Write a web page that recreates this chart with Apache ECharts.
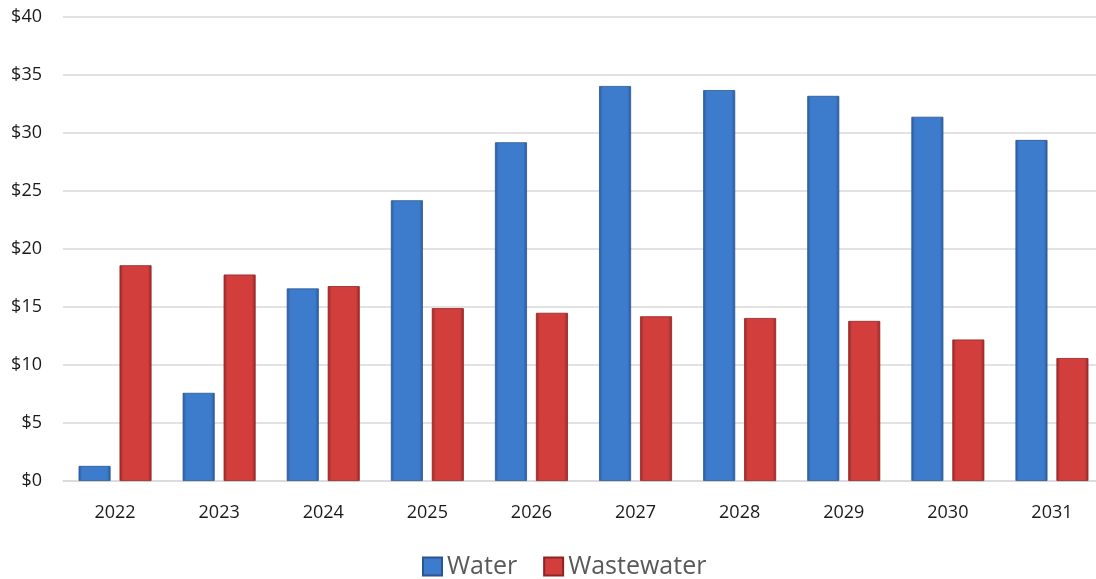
<!DOCTYPE html>
<html>
<head>
<meta charset="utf-8">
<script src="https://cdn.jsdelivr.net/npm/echarts@6/dist/echarts.min.js"></script>
<style>
  html, body { margin: 0; padding: 0; background: #fff; overflow: hidden; }
  /* plot runs slightly past the right edge in the original, so the canvas is a bit wider than the window */
  #chart { width: 1104px; height: 579px; }
</style>
</head>
<body>
<div id="chart"></div>
<script>
const years = ['2022', '2023', '2024', '2025', '2026', '2027', '2028', '2029', '2030', '2031'];
const water = [1.3, 7.6, 16.6, 24.2, 29.2, 34.05, 33.7, 33.2, 31.4, 29.4];
const wastewater = [18.6, 17.8, 16.8, 14.9, 14.5, 14.2, 14.05, 13.8, 12.2, 10.6];

const font = '"Open Sans", "Noto Sans", sans-serif';

// horizontal gradient to fake the bevelled bars
const bevel = (edge, mid) => new echarts.graphic.LinearGradient(0, 0, 1, 0, [
  { offset: 0, color: edge },
  { offset: 0.12, color: mid },
  { offset: 0.88, color: mid },
  { offset: 1, color: edge }
]);

const chart = echarts.init(document.getElementById('chart'));

chart.setOption({
  animation: false,
  grid: { left: 63, top: 17, right: 0, bottom: 98 },
  legend: {
    bottom: 0,
    left: 422,
    padding: 0,
    itemWidth: 19,
    itemHeight: 18,
    itemGap: 26,
    icon: 'rect',
    textStyle: { fontFamily: font, fontSize: 25, color: '#595959' },
    data: ['Water', 'Wastewater']
  },
  xAxis: {
    type: 'category',
    data: years,
    axisTick: { show: false },
    axisLine: { lineStyle: { color: '#d9d9d9', width: 1.5 } },
    axisLabel: { fontFamily: font, fontSize: 18, color: '#1a1a1a', margin: 23 }
  },
  yAxis: {
    type: 'value',
    min: 0,
    max: 40,
    interval: 5,
    axisLine: { show: false },
    axisTick: { show: false },
    axisLabel: { fontFamily: font, fontSize: 18, color: '#1a1a1a', margin: 21, formatter: '${value}' },
    splitLine: { lineStyle: { color: '#d9d9d9', width: 1.5 } }
  },
  series: [
    {
      name: 'Water',
      type: 'bar',
      data: water,
      barWidth: 32,
      barGap: '28%',
      itemStyle: { color: bevel('#2a5b9e', '#3d7ccc'), borderColor: '#2a5590', borderWidth: 0.8 }
    },
    {
      name: 'Wastewater',
      type: 'bar',
      data: wastewater,
      barWidth: 32,
      itemStyle: { color: bevel('#9a2626', '#d23e3c'), borderColor: '#8e2424', borderWidth: 0.8 }
    }
  ]
});
</script>
</body>
</html>
